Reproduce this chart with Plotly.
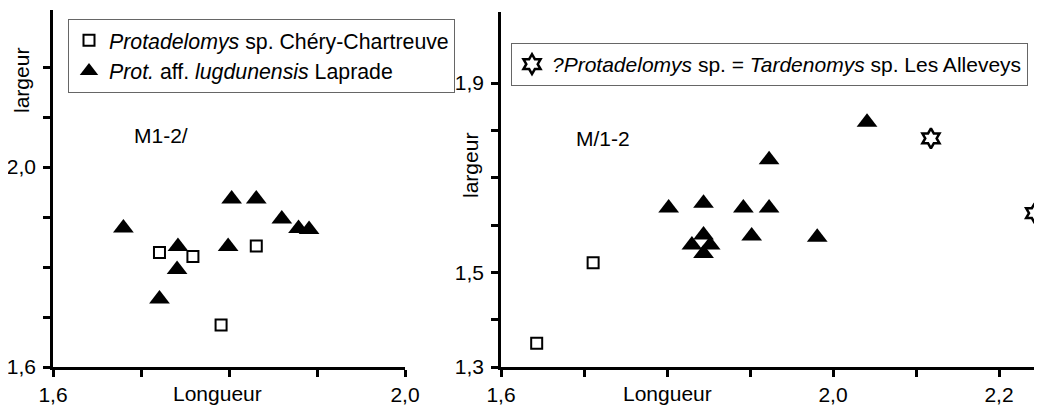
import plotly.graph_objects as go

# ---------------- data ----------------
# Left panel: M1-2/
left_sq_x = [1.721, 1.759, 1.831, 1.791]
left_sq_y = [1.829, 1.821, 1.842, 1.684]
left_tri_x = [1.680, 1.803, 1.831, 1.860, 1.879, 1.891, 1.742, 1.799, 1.741, 1.721]
left_tri_y = [1.878, 1.936, 1.936, 1.896, 1.877, 1.875, 1.841, 1.841, 1.795, 1.736]

# Right panel: M/1-2
right_sq_x = [1.643, 1.711]
right_sq_y = [1.350, 1.520]
right_tri_x = [1.802, 1.844, 1.892, 1.902, 1.830, 1.844, 1.852, 1.844, 1.923, 1.923, 1.981, 2.041]
right_tri_y = [1.636, 1.646, 1.636, 1.577, 1.558, 1.579, 1.558, 1.540, 1.738, 1.636, 1.574, 1.817]
right_star_x = [2.118, 2.243]
right_star_y = [1.783, 1.625]

# tick values / labels
left_xticks = [1.6, 1.7, 1.8, 1.9, 2.0]
left_xlabels = ["1,6", "", "", "", "2,0"]
left_yticks = [1.6, 1.7, 1.8, 1.9, 2.0, 2.1, 2.2]
left_ylabels = ["1,6", "", "", "", "2,0", "", ""]
right_xticks = [1.6, 1.7, 1.8, 1.9, 2.0, 2.1, 2.2]
right_xlabels = ["1,6", "", "", "", "2,0", "", "2,2"]
right_yticks = [1.3, 1.4, 1.5, 1.6, 1.7, 1.8, 1.9]
right_ylabels = ["1,3", "", "1,5", "", "", "", "1,9"]

name_sq = "<i>Protadelomys</i> sp. Chéry-Chartreuve"
name_tri = "<i>Prot.</i> aff. <i>lugdunensis</i> Laprade"
name_star = "<i>?Protadelomys</i> sp. = <i>Tardenomys</i> sp. Les Alleveys"

# ---------------- figure ----------------
# the page body has an 8px margin, so the figure is drawn 8px lower/right
OFF = 8
W, H = 1042 - OFF, 407 - OFF
FONT = "Liberation Sans, Arial, Helvetica, sans-serif"
FS = 21

sq_marker = dict(symbol="square-open", size=11, color="black", line=dict(width=2, color="black"))
tri_marker = dict(symbol="triangle-up", size=18, color="black", line=dict(width=0))
star_marker = dict(symbol="hexagram-open", size=15, color="black", line=dict(width=2.5, color="black"))

fig = go.Figure()
fig.add_trace(go.Scatter(x=left_sq_x, y=left_sq_y, mode="markers", marker=sq_marker,
                         name=name_sq, xaxis="x", yaxis="y", legend="legend"))
fig.add_trace(go.Scatter(x=left_tri_x, y=left_tri_y, mode="markers", marker=tri_marker,
                         name=name_tri, xaxis="x", yaxis="y", legend="legend"))
fig.add_trace(go.Scatter(x=right_sq_x, y=right_sq_y, mode="markers", marker=sq_marker,
                         name=name_sq, xaxis="x2", yaxis="y2", showlegend=False))
fig.add_trace(go.Scatter(x=right_tri_x, y=right_tri_y, mode="markers", marker=tri_marker,
                         name=name_tri, xaxis="x2", yaxis="y2", showlegend=False))
fig.add_trace(go.Scatter(x=right_star_x, y=right_star_y, mode="markers", marker=star_marker,
                         name=name_star, xaxis="x2", yaxis="y2", legend="legend2"))

axis_common = dict(showline=True, linewidth=2.5, linecolor="black", mirror=False,
                   ticks="outside", ticklen=7, tickwidth=2.5, tickcolor="black",
                   showgrid=False, zeroline=False, automargin=False,
                   tickfont=dict(family=FONT, size=FS, color="black"))

def px_x(p):
    return (p - OFF) / W

def px_y(p):
    return 1 - (p - OFF) / H

fig.update_layout(
    template="none",
    width=W, height=H,
    margin=dict(l=0, r=0, t=0, b=0, pad=0),
    paper_bgcolor="white", plot_bgcolor="white",
    font=dict(family=FONT, size=FS, color="black"),
    xaxis=dict(domain=[px_x(53), px_x(405)], range=[1.6, 2.0], anchor="y",
               tickvals=left_xticks, ticktext=left_xlabels, ticklabelstandoff=0, **axis_common),
    yaxis=dict(domain=[px_y(367), px_y(10)], range=[1.6, 2.314], anchor="x",
               tickvals=left_yticks, ticktext=left_ylabels, ticklabelstandoff=3, **axis_common),
    xaxis2=dict(domain=[px_x(501), 1.0], range=[1.6, 2.2518], anchor="y2",
                tickvals=right_xticks, ticktext=right_xlabels, ticklabelstandoff=0, **axis_common),
    yaxis2=dict(domain=[px_y(367), px_y(12)], range=[1.3, 2.05], anchor="x2",
                tickvals=right_yticks, ticktext=right_ylabels, ticklabelstandoff=3, **axis_common),
    legend=dict(x=px_x(68), y=px_y(19), xanchor="left", yanchor="top",
                bgcolor="white", bordercolor="#666", borderwidth=1,
                font=dict(family=FONT, size=21.3, color="black"),
                itemwidth=30, tracegroupgap=0),
    legend2=dict(x=px_x(511), y=px_y(43), xanchor="left", yanchor="top",
                 bgcolor="white", bordercolor="#666", borderwidth=1,
                 font=dict(family=FONT, size=21, color="black"),
                 itemwidth=30),
    showlegend=True,
)

ann_font = dict(family=FONT, size=FS, color="black")
annotations = [
    dict(text="M1-2/", x=px_x(161), y=px_y(135)),
    dict(text="M/1-2", x=px_x(603), y=px_y(138)),
    dict(text="Longueur", x=px_x(217), y=px_y(393)),
    dict(text="Longueur", x=px_x(667), y=px_y(393)),
    dict(text="largeur", x=px_x(22), y=px_y(81), textangle=-90),
    dict(text="largeur", x=px_x(470), y=px_y(166), textangle=-90),
]
for a in annotations:
    fig.add_annotation(xref="paper", yref="paper", xanchor="center", yanchor="middle",
                       showarrow=False, font=ann_font, **a)

fig.write_html("out.html")
